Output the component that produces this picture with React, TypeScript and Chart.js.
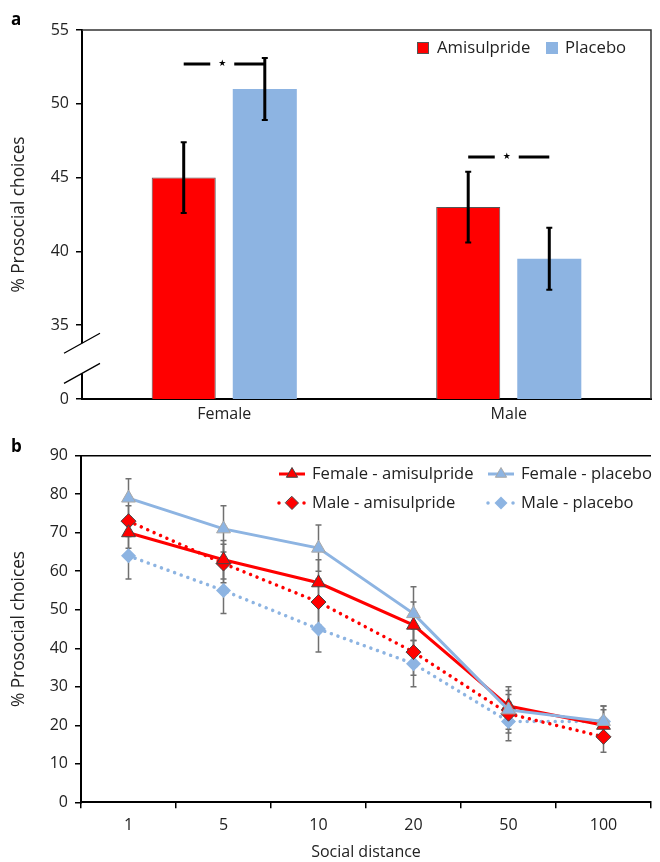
import React, { useEffect, useRef } from 'react';
import { Chart, registerables } from 'chart.js';

Chart.register(...registerables);

const FONT = "'Open Sans', 'Noto Sans', sans-serif";
const TEXT = '#222';
const RED = '#ff0000';
const BLUE = '#8db4e2';

// ---- Panel a data ----
const sexCategories = ['Female', 'Male'];
const amisulprideMeans = [45, 43];
const amisulprideErrors = [2.4, 2.4];
const placeboMeans = [51, 39.5];
const placeboErrors = [2.1, 2.1];
const significanceLevels = [52.7, 46.4];
const barAxisTicks = [30, 35, 40, 45, 50, 55];
const barAxisTickLabels = ['0', '35', '40', '45', '50', '55'];
const axisBreakValues = [33.78, 31.74];

// ---- Panel b data ----
const socialDistances = ['1', '5', '10', '20', '50', '100'];
const femaleAmisulpride = [70, 63, 57, 46, 25, 20];
const femaleAmisulprideErr = [4, 5, 6, 6, 5, 4];
const femalePlacebo = [79, 71, 66, 49, 24, 21];
const femalePlaceboErr = [5, 6, 6, 7, 5, 4];
const maleAmisulpride = [73, 62, 52, 39, 23, 17];
const maleAmisulprideErr = [4, 5, 6, 6, 5, 4];
const malePlacebo = [64, 55, 45, 36, 21, 21];
const malePlaceboErr = [6, 6, 6, 6, 5, 4];

function drawMarker(ctx: CanvasRenderingContext2D, style: string, x: number, y: number, r: number, fill: string, stroke: string | null) {
  ctx.beginPath();
  if (style === 'triangle') {
    ctx.moveTo(x, y - r);
    ctx.lineTo(x + 0.866 * r, y + 0.5 * r);
    ctx.lineTo(x - 0.866 * r, y + 0.5 * r);
  } else {
    ctx.moveTo(x, y - r);
    ctx.lineTo(x + r, y);
    ctx.lineTo(x, y + r);
    ctx.lineTo(x - r, y);
  }
  ctx.closePath();
  ctx.fillStyle = fill;
  ctx.fill();
  if (stroke) {
    ctx.strokeStyle = stroke;
    ctx.lineWidth = 1;
    ctx.setLineDash([]);
    ctx.stroke();
  }
}

const panelAPlugin = {
  id: 'panelA',
  afterDatasetsDraw(chart: any) {
    const ctx: CanvasRenderingContext2D = chart.ctx;
    const { left, right, top, bottom } = chart.chartArea;
    const y = chart.scales.y;
    const metaA = chart.getDatasetMeta(0);
    const metaP = chart.getDatasetMeta(1);
    ctx.save();
    ctx.strokeStyle = '#000';
    const groups: any[] = [
      [metaA, amisulprideMeans, amisulprideErrors],
      [metaP, placeboMeans, placeboErrors],
    ];
    groups.forEach(([meta, means, errs]) => {
      meta.data.forEach((bar: any, i: number) => {
        const x = bar.x;
        const yt = y.getPixelForValue(means[i] + errs[i]);
        const yb = y.getPixelForValue(means[i] - errs[i]);
        ctx.lineWidth = 3;
        ctx.beginPath();
        ctx.moveTo(x, yt);
        ctx.lineTo(x, yb);
        ctx.stroke();
        ctx.lineWidth = 2;
        ctx.beginPath();
        ctx.moveTo(x - 3, yt);
        ctx.lineTo(x + 3, yt);
        ctx.moveTo(x - 3, yb);
        ctx.lineTo(x + 3, yb);
        ctx.stroke();
      });
    });
    // significance markers
    sexCategories.forEach((_, i) => {
      const c1 = metaA.data[i].x;
      const c2 = metaP.data[i].x;
      const mid = (c1 + c2) / 2;
      const yy = y.getPixelForValue(significanceLevels[i]);
      ctx.lineWidth = 3;
      ctx.beginPath();
      ctx.moveTo(c1, yy);
      ctx.lineTo(mid - 14, yy);
      ctx.moveTo(mid + 10, yy);
      ctx.lineTo(c2, yy);
      ctx.stroke();
      ctx.fillStyle = '#000';
      ctx.font = `9px 'DejaVu Sans'`;
      ctx.textAlign = 'center';
      ctx.textBaseline = 'middle';
      ctx.fillText('★', mid - 2, yy);
    });
    // frame
    ctx.strokeStyle = '#333';
    ctx.lineWidth = 1.5;
    ctx.beginPath();
    ctx.moveTo(left, top);
    ctx.lineTo(right, top);
    ctx.lineTo(right, bottom);
    ctx.stroke();
    // axis break
    const b1 = y.getPixelForValue(axisBreakValues[0]);
    const b2 = y.getPixelForValue(axisBreakValues[1]);
    ctx.fillStyle = '#fff';
    ctx.fillRect(left - 4, b1, 8, b2 - b1);
    ctx.strokeStyle = '#000';
    ctx.lineWidth = 1.3;
    ctx.beginPath();
    [b1, b2].forEach((by) => {
      ctx.moveTo(left - 18, by + 10);
      ctx.lineTo(left + 18, by - 10);
    });
    ctx.stroke();
    // legend
    ctx.font = `16.7px ${FONT}`;
    ctx.textAlign = 'left';
    ctx.textBaseline = 'middle';
    const ly = 48;
    ctx.fillStyle = RED;
    ctx.fillRect(417, ly - 6, 12, 12);
    ctx.strokeStyle = '#555';
    ctx.lineWidth = 1;
    ctx.strokeRect(417.5, ly - 5.5, 11, 11);
    ctx.fillStyle = TEXT;
    ctx.fillText(chart.data.datasets[0].label, 437, ly);
    ctx.fillStyle = BLUE;
    ctx.fillRect(546, ly - 6, 12, 12);
    ctx.fillStyle = TEXT;
    ctx.fillText(chart.data.datasets[1].label, 565, ly);
    // panel letter
    ctx.font = `bold 17px ${FONT}`;
    ctx.fillStyle = '#000';
    ctx.fillText('a', 11, 20);
    ctx.restore();
  },
};

const errorSets = [femalePlaceboErr, femaleAmisulprideErr, maleAmisulprideErr, malePlaceboErr];

const panelBPlugin = {
  id: 'panelB',
  beforeDatasetsDraw(chart: any) {
    const ctx: CanvasRenderingContext2D = chart.ctx;
    const y = chart.scales.y;
    ctx.save();
    ctx.strokeStyle = '#707070';
    ctx.lineWidth = 1.5;
    chart.data.datasets.forEach((ds: any, di: number) => {
      const meta = chart.getDatasetMeta(di);
      const errs = errorSets[di];
      meta.data.forEach((pt: any, i: number) => {
        const x = pt.x;
        const yt = y.getPixelForValue(ds.data[i] + errs[i]);
        const yb = y.getPixelForValue(ds.data[i] - errs[i]);
        ctx.beginPath();
        ctx.moveTo(x, yt);
        ctx.lineTo(x, yb);
        ctx.moveTo(x - 3, yt);
        ctx.lineTo(x + 3, yt);
        ctx.moveTo(x - 3, yb);
        ctx.lineTo(x + 3, yb);
        ctx.stroke();
      });
    });
    ctx.restore();
  },
  afterDraw(chart: any) {
    const ctx: CanvasRenderingContext2D = chart.ctx;
    const { left, right, top } = chart.chartArea;
    ctx.save();
    // top line
    ctx.strokeStyle = '#000';
    ctx.lineWidth = 1.5;
    ctx.beginPath();
    ctx.moveTo(left, top);
    ctx.lineTo(right, top);
    ctx.stroke();
    // legend
    const entries = [
      { ds: 1, x: 279, y: 44 },
      { ds: 0, x: 488, y: 44 },
      { ds: 2, x: 279, y: 73 },
      { ds: 3, x: 488, y: 73 },
    ];
    ctx.font = `16.6px ${FONT}`;
    ctx.textAlign = 'left';
    ctx.textBaseline = 'middle';
    entries.forEach((e) => {
      const ds = chart.data.datasets[e.ds];
      const dotted = ds.borderDash && ds.borderDash.length > 0;
      ctx.strokeStyle = ds.borderColor;
      ctx.lineWidth = dotted ? 3.5 : 3;
      ctx.lineCap = dotted ? 'round' : 'butt';
      ctx.setLineDash(dotted ? [0.01, 12.5] : []);
      ctx.beginPath();
      ctx.moveTo(e.x, e.y);
      ctx.lineTo(e.x + 26, e.y);
      ctx.stroke();
      ctx.setLineDash([]);
      drawMarker(ctx, ds.pointStyle, e.x + 13, e.y, 6.5, ds.pointBackgroundColor, ds.pointBorderWidth ? ds.pointBorderColor : null);
      ctx.fillStyle = TEXT;
      ctx.fillText(ds.label, e.x + 33, e.y);
    });
    ctx.font = `bold 17px ${FONT}`;
    ctx.fillStyle = '#000';
    ctx.fillText('b', 11, 17);
    ctx.restore();
  },
};

export default function App() {
  const refA = useRef<HTMLCanvasElement>(null);
  const refB = useRef<HTMLCanvasElement>(null);

  useEffect(() => {
    const tickFont = { family: FONT, size: 16 };
    const titleFont = { family: FONT, size: 17.3 };
    const chartA = new Chart(refA.current as HTMLCanvasElement, {
      type: 'bar',
      data: {
        labels: sexCategories,
        datasets: [
          {
            label: 'Amisulpride',
            data: amisulprideMeans,
            backgroundColor: RED,
            borderColor: '#555',
            borderWidth: 1,
            barPercentage: 0.79,
            categoryPercentage: 0.57,
          },
          {
            label: 'Placebo',
            data: placeboMeans,
            backgroundColor: BLUE,
            borderWidth: 0,
            barPercentage: 0.79,
            categoryPercentage: 0.57,
          },
        ],
      },
      options: {
        responsive: false,
        animation: false,
        devicePixelRatio: 1,
        layout: { padding: { top: 30, right: 9, left: 0, bottom: 0 } },
        plugins: { legend: { display: false }, tooltip: { enabled: false } },
        scales: {
          x: {
            grid: { display: false, drawTicks: false },
            border: { display: true, color: '#000', width: 2 },
            ticks: { font: tickFont, color: TEXT, padding: 6 },
            afterFit: (s: any) => { s.height = 31; },
          },
          y: {
            min: 30,
            max: 55,
            afterBuildTicks: (s: any) => { s.ticks = barAxisTicks.map((v) => ({ value: v })); },
            ticks: {
              font: tickFont,
              color: TEXT,
              padding: 7,
              callback: (_v: any, i: number) => barAxisTickLabels[i],
            },
            grid: { drawOnChartArea: false, drawTicks: true, tickLength: 6, color: '#000', lineWidth: 1.5 },
            border: { display: true, color: '#000', width: 2 },
            title: { display: true, text: '% Prosocial choices', font: titleFont, color: TEXT, padding: { top: 9, bottom: 0 } },
            afterFit: (s: any) => { s.width = 82; },
          },
        },
      } as any,
      plugins: [panelAPlugin],
    });

    const chartB = new Chart(refB.current as HTMLCanvasElement, {
      type: 'line',
      data: {
        labels: socialDistances,
        datasets: [
          {
            label: 'Female - placebo',
            data: femalePlacebo,
            borderColor: BLUE,
            backgroundColor: BLUE,
            borderWidth: 3,
            tension: 0,
            pointStyle: 'triangle',
            pointRadius: 8,
            pointBackgroundColor: BLUE,
            pointBorderColor: '#a8a8a8',
            pointBorderWidth: 1,
          },
          {
            label: 'Female - amisulpride',
            data: femaleAmisulpride,
            borderColor: RED,
            backgroundColor: RED,
            borderWidth: 3,
            tension: 0,
            pointStyle: 'triangle',
            pointRadius: 8,
            pointBackgroundColor: RED,
            pointBorderColor: '#444',
            pointBorderWidth: 1,
          },
          {
            label: 'Male - amisulpride',
            data: maleAmisulpride,
            borderColor: RED,
            backgroundColor: RED,
            borderWidth: 3.5,
            borderDash: [0.01, 7],
            borderCapStyle: 'round',
            tension: 0,
            pointStyle: 'rectRot',
            pointRadius: 7.5,
            pointBackgroundColor: RED,
            pointBorderColor: '#444',
            pointBorderWidth: 1,
          },
          {
            label: 'Male - placebo',
            data: malePlacebo,
            borderColor: BLUE,
            backgroundColor: BLUE,
            borderWidth: 3.5,
            borderDash: [0.01, 7],
            borderCapStyle: 'round',
            tension: 0,
            pointStyle: 'rectRot',
            pointRadius: 7.5,
            pointBackgroundColor: BLUE,
            pointBorderColor: BLUE,
            pointBorderWidth: 0,
          },
        ],
      },
      options: {
        responsive: false,
        animation: false,
        devicePixelRatio: 1,
        layout: { padding: { top: 25.7, right: 0, left: 0, bottom: 0 } },
        plugins: { legend: { display: false }, tooltip: { enabled: false } },
        scales: {
          x: {
            offset: true,
            grid: { offset: true, drawOnChartArea: false, drawTicks: true, tickLength: 6, color: '#000', lineWidth: 1.5 },
            border: { display: true, color: '#000', width: 2 },
            ticks: { font: tickFont, color: TEXT, padding: 8 },
            title: { display: true, text: 'Social distance', font: tickFont, color: TEXT, padding: { top: 4, bottom: 0 } },
            afterFit: (s: any) => { s.height = 59.7; },
          },
          y: {
            min: 0,
            max: 90,
            ticks: { stepSize: 10, font: tickFont, color: TEXT, padding: 7 },
            grid: { drawOnChartArea: false, drawTicks: true, tickLength: 6, color: '#000', lineWidth: 1.5 },
            border: { display: true, color: '#000', width: 2 },
            title: { display: true, text: '% Prosocial choices', font: titleFont, color: TEXT, padding: { top: 9, bottom: 0 } },
            afterFit: (s: any) => { s.width = 81; },
          },
        },
      } as any,
      plugins: [panelBPlugin],
    });

    return () => {
      chartA.destroy();
      chartB.destroy();
    };
  }, []);

  return (
    <div style={{ position: 'absolute', left: 0, top: 0, width: 660, height: 862, background: '#fff' }}>
      <canvas ref={refA} width={660} height={430} style={{ display: 'block', width: 660, height: 430 }} />
      <canvas ref={refB} width={660} height={432} style={{ display: 'block', width: 660, height: 432 }} />
    </div>
  );
}
